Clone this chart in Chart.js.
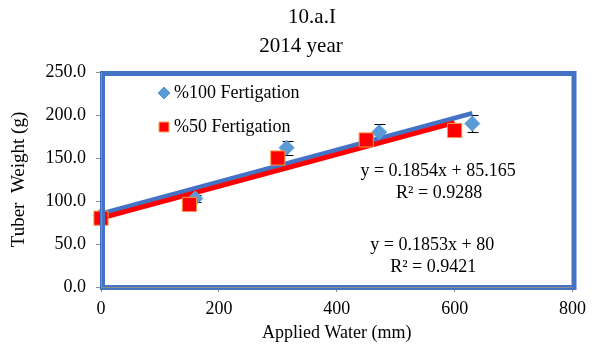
<!DOCTYPE html>
<html>
<head>
<meta charset="utf-8">
<script src="https://cdn.jsdelivr.net/npm/chart.js@4.4.1/dist/chart.umd.min.js"></script>
<style>
  html, body { margin: 0; padding: 0; background: #fff; }
  #wrap { width: 592px; height: 354px; }
</style>
</head>
<body>
<div id="wrap"><canvas id="grafica" width="592" height="354"></canvas></div>
<script>
// Datos
const agua100 = [0, 160, 315, 472, 630];
const peso100 = [83, 103, 162, 180, 190];
const error100 = [0, 4, 8, 9, 10];

const agua50 = [0, 150, 300, 450, 600];
const peso50 = [80, 96, 150, 171, 182];
const error50 = [0, 3, 4, 7, 8];

// Lineas de tendencia (extremos)
const tendencia100X = [0, 630];
const tendencia100Y = [85.2, 202.0];
const tendencia50X = [0, 600];
const tendencia50Y = [80.0, 191.2];

const titulos = ["10.a.I", "2014 year"];
const ecuaciones = [
  ["y = 0.1854x + 85.165", "R² = 0.9288"],
  ["y = 0.1853x + 80", "R² = 0.9421"]
];

const azul = "#4472C4";
const azulPunto = "#5B9BD5";
const rojo = "#FF0000";
const fuente = "'Liberation Serif', 'Times New Roman', serif";

function puntos(xs, ys) {
  return xs.map((x, i) => ({ x: x, y: ys[i] }));
}

// Marco azul grueso alrededor del area de trazado
const marcoPlugin = {
  id: "marco",
  afterDraw(chart) {
    const a = chart.chartArea;
    const ctx = chart.ctx;
    ctx.save();
    ctx.strokeStyle = azul;
    ctx.lineWidth = 5;
    ctx.strokeRect(a.left + 1.5, a.top + 1.5, a.right - a.left, a.bottom - a.top - 1);
    ctx.strokeStyle = "#8c8c8c";
    ctx.lineWidth = 1;
    ctx.beginPath();
    ctx.moveTo(a.left, a.bottom + 0.5);
    ctx.lineTo(a.right, a.bottom + 0.5);
    ctx.moveTo(a.left + 0.5, a.top);
    ctx.lineTo(a.left + 0.5, a.bottom);
    ctx.stroke();
    ctx.restore();
  }
};

// Barras de error (debajo de los marcadores)
const erroresPlugin = {
  id: "errores",
  beforeDatasetsDraw(chart) {
    const ctx = chart.ctx;
    const xs = chart.scales.x, ys = chart.scales.y;
    const series = [[agua100, peso100, error100], [agua50, peso50, error50]];
    ctx.save();
    ctx.strokeStyle = "#000";
    ctx.lineWidth = 1.2;
    series.forEach(function (s) {
      s[0].forEach(function (x, i) {
        if (!s[2][i]) return;
        const px = Math.round(xs.getPixelForValue(x)) + 0.5;
        const y1 = Math.round(ys.getPixelForValue(s[1][i] - s[2][i])) + 0.5;
        const y2 = Math.round(ys.getPixelForValue(s[1][i] + s[2][i])) + 0.5;
        ctx.beginPath();
        ctx.moveTo(px, y1); ctx.lineTo(px, y2);
        ctx.moveTo(px - 5, y1); ctx.lineTo(px + 6, y1);
        ctx.moveTo(px - 5, y2); ctx.lineTo(px + 6, y2);
        ctx.stroke();
      });
    });
    ctx.restore();
  }
};

// Titulo, leyenda dentro del grafico y ecuaciones
const textosPlugin = {
  id: "textos",
  afterDraw(chart) {
    const ctx = chart.ctx;
    const a = chart.chartArea;
    const xs = chart.scales.x, ys = chart.scales.y;
    ctx.save();
    ctx.fillStyle = "#000";
    ctx.textBaseline = "middle";
    ctx.textAlign = "center";
    // titulo
    ctx.font = "21px " + fuente;
    ctx.fillText(titulos[0], 312, 17);
    ctx.fillText(titulos[1], 301, 46);
    // leyenda
    ctx.font = "18px " + fuente;
    const items = [chart.data.datasets[2], chart.data.datasets[3]];
    const tam = [6, 7];
    items.forEach(function (d, i) {
      const lx = a.left + 63;
      const ly = a.top + 21 + i * 34;
      ctx.fillStyle = d.backgroundColor;
      ctx.strokeStyle = d.borderColor;
      ctx.lineWidth = d.borderWidth;
      Chart.helpers.drawPoint(ctx, { pointStyle: d.pointStyle, radius: tam[i], borderWidth: d.borderWidth }, lx, ly);
      ctx.fillStyle = "#000";
      ctx.textAlign = "left";
      ctx.fillText(d.label, lx + 10, ly);
    });
    // ecuaciones
    ctx.textAlign = "center";
    const cx = [xs.getPixelForValue(572), xs.getPixelForValue(562)];
    ecuaciones.forEach(function (e, i) {
      const y0 = i === 0 ? ys.getPixelForValue(134) : ys.getPixelForValue(49);
      ctx.fillText(e[0], cx[i], y0);
      ctx.fillText(e[1], cx[i] + 1, y0 + 22);
    });
    ctx.restore();
  }
};

const ctx = document.getElementById("grafica").getContext("2d");
new Chart(ctx, {
  type: "scatter",
  data: {
    datasets: [
      {
        label: "tendencia100",
        type: "line",
        data: puntos(tendencia100X, tendencia100Y),
        borderColor: azul,
        borderWidth: 4.5,
        pointRadius: 0,
        fill: false,
        clip: false,
        order: 4
      },
      {
        label: "tendencia50",
        type: "line",
        data: puntos(tendencia50X, tendencia50Y),
        borderColor: rojo,
        borderWidth: 5,
        pointRadius: 0,
        fill: false,
        clip: false,
        order: 3
      },
      {
        label: "%100 Fertigation",
        data: puntos(agua100, peso100),
        pointStyle: "rectRot",
        pointRadius: 7.5,
        backgroundColor: azulPunto,
        borderColor: azulPunto,
        borderWidth: 1,
        clip: false,
        order: 2
      },
      {
        label: "%50 Fertigation",
        data: puntos(agua50, peso50),
        pointStyle: "rect",
        pointRadius: 10,
        backgroundColor: rojo,
        borderColor: "#F79646",
        borderWidth: 1,
        clip: false,
        order: 1
      }
    ]
  },
  options: {
    responsive: false,
    animation: false,
    layout: { padding: { top: 72, right: 14, left: 0, bottom: 0 } },
    plugins: {
      legend: { display: false },
      tooltip: { enabled: false },
      title: { display: false }
    },
    scales: {
      x: {
        type: "linear",
        min: 0,
        max: 800,
        ticks: { stepSize: 200, color: "#000", font: { family: fuente, size: 18 }, padding: 6 },
        grid: { drawOnChartArea: false, color: "#8c8c8c", tickLength: 5 },
        border: { display: false },
        title: {
          display: true,
          text: "Applied Water (mm)",
          color: "#000",
          font: { family: fuente, size: 18 },
          padding: { top: 0, bottom: 10 }
        },
        afterFit(scale) { scale.height = 67; }
      },
      y: {
        min: 0,
        max: 250,
        ticks: {
          stepSize: 50,
          color: "#000",
          font: { family: fuente, size: 18 },
          padding: 10,
          callback: function (v) { return v.toFixed(1); }
        },
        grid: { drawOnChartArea: false, color: "#8c8c8c", tickLength: 5 },
        border: { display: false },
        title: {
          display: true,
          text: "Tuber  Weight (g)",
          color: "#000",
          font: { family: fuente, size: 19 },
          padding: { top: 8, bottom: 0 }
        },
        afterFit(scale) { scale.width = 101; }
      }
    }
  },
  plugins: [marcoPlugin, erroresPlugin, textosPlugin]
});
</script>
</body>
</html>
